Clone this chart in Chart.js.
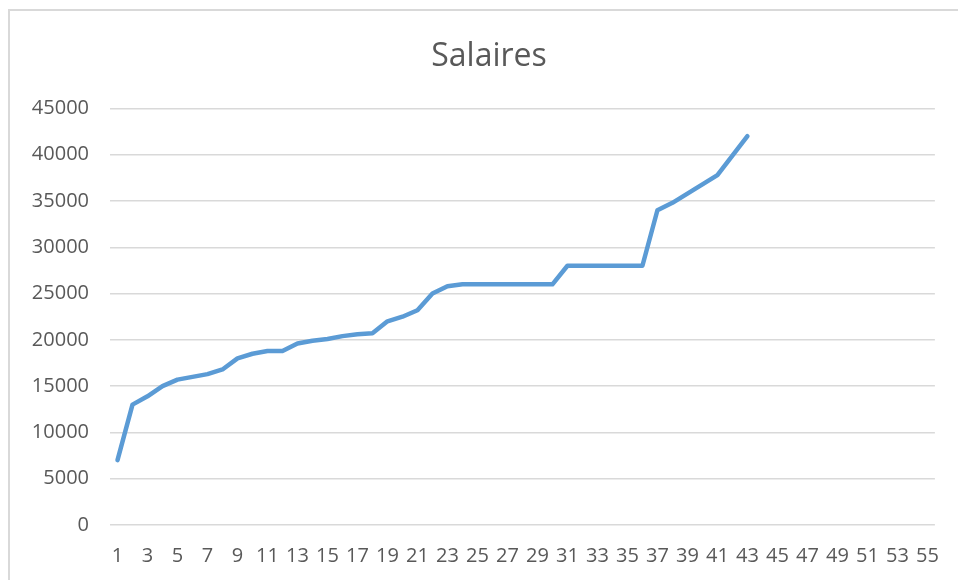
<!DOCTYPE html>
<html>
<head>
<meta charset="utf-8">
<script src="https://cdn.jsdelivr.net/npm/chart.js@4/dist/chart.umd.min.js"></script>
<style>
    html, body { margin: 0; padding: 0; background: #ffffff; }
    #wrap { position: relative; width: 958px; height: 580px; overflow: hidden; }
    #frame { position: absolute; left: 8px; top: 9px; width: 1000px; height: 640px;
             border: 2px solid #d9d9d9; box-sizing: border-box; }
    #chartCanvasId { position: absolute; left: 0; top: 0; }
</style>
</head>
<body>
<div id="wrap">
    <div id="frame"></div>
    <canvas id="chartCanvasId" width="958" height="580"></canvas>
</div>
<script>
// rangs 1 a 55 sur l'axe, salaires seulement pour les 43 premiers
const categories = [];
for (let i = 1; i <= 55; i++) categories.push(String(i));

const salaires = [
    7000, 13000, 13900, 15000, 15700, 16000, 16300, 16800, 18000, 18500,
    18800, 18800, 19600, 19900, 20100, 20400, 20600, 20700, 22000, 22500,
    23200, 25000, 25800, 26000, 26000, 26000, 26000, 26000, 26000, 26000,
    28000, 28000, 28000, 28000, 28000, 28000, 34000, 34800, 35800, 36800,
    37800, 39900, 42000
];

const yTicks = [0, 5000, 10000, 15000, 20000, 25000, 30000, 35000, 40000, 45000];

const grey = "#595959";
const fontName = "'Open Sans', 'Noto Sans', sans-serif";

window.addEventListener("DOMContentLoaded", init);

function init() {
    const chartCanvas = document.getElementById("chartCanvasId");

    new Chart(chartCanvas, {
        type: 'line',
        data: {
            labels: categories,
            datasets: [{
                label: 'Salaires',
                data: salaires,
                borderColor: '#5b9bd5',
                backgroundColor: '#5b9bd5',
                borderWidth: 4.5,
                borderCapStyle: 'round',
                borderJoinStyle: 'round',
                pointRadius: 0,
                tension: 0,
                fill: false
            }]
        },
        options: {
            responsive: false,
            animation: false,
            layout: {
                padding: { left: 30, right: 10, top: 0, bottom: 12 }
            },
            plugins: {
                legend: { display: false },
                tooltip: { enabled: false },
                title: {
                    display: true,
                    text: 'Salaires',
                    color: grey,
                    font: { family: fontName, size: 32, weight: 'normal' },
                    padding: { top: 38, bottom: 32 }
                }
            },
            scales: {
                x: {
                    offset: true,
                    afterFit: function (axis) { axis.height = 43; },
                    grid: { display: false, drawTicks: false },
                    border: { display: false },
                    ticks: {
                        autoSkip: false,
                        maxRotation: 0,
                        minRotation: 0,
                        padding: 19,
                        color: grey,
                        font: { family: fontName, size: 20 },
                        callback: function (value, index) {
                            return index % 2 === 0 ? categories[index] : '';
                        }
                    }
                },
                y: {
                    min: yTicks[0],
                    max: yTicks[yTicks.length - 1],
                    afterFit: function (axis) { axis.width = 80; },
                    afterBuildTicks: function (axis) {
                        axis.ticks = yTicks.map(v => ({ value: v }));
                    },
                    grid: { color: '#d9d9d9', lineWidth: 1.5, drawTicks: false },
                    border: { display: false },
                    ticks: {
                        padding: 21,
                        color: grey,
                        font: { family: fontName, size: 20 },
                        callback: function (value) { return String(value); }
                    }
                },
                // axe vide a droite, juste pour garder la marge
                yRight: {
                    type: 'linear',
                    position: 'right',
                    min: 0,
                    max: 1,
                    afterFit: function (axis) { axis.width = 10; },
                    grid: { display: false, drawTicks: false },
                    border: { display: false },
                    ticks: { display: false }
                }
            }
        }
    });
}
</script>
</body>
</html>
